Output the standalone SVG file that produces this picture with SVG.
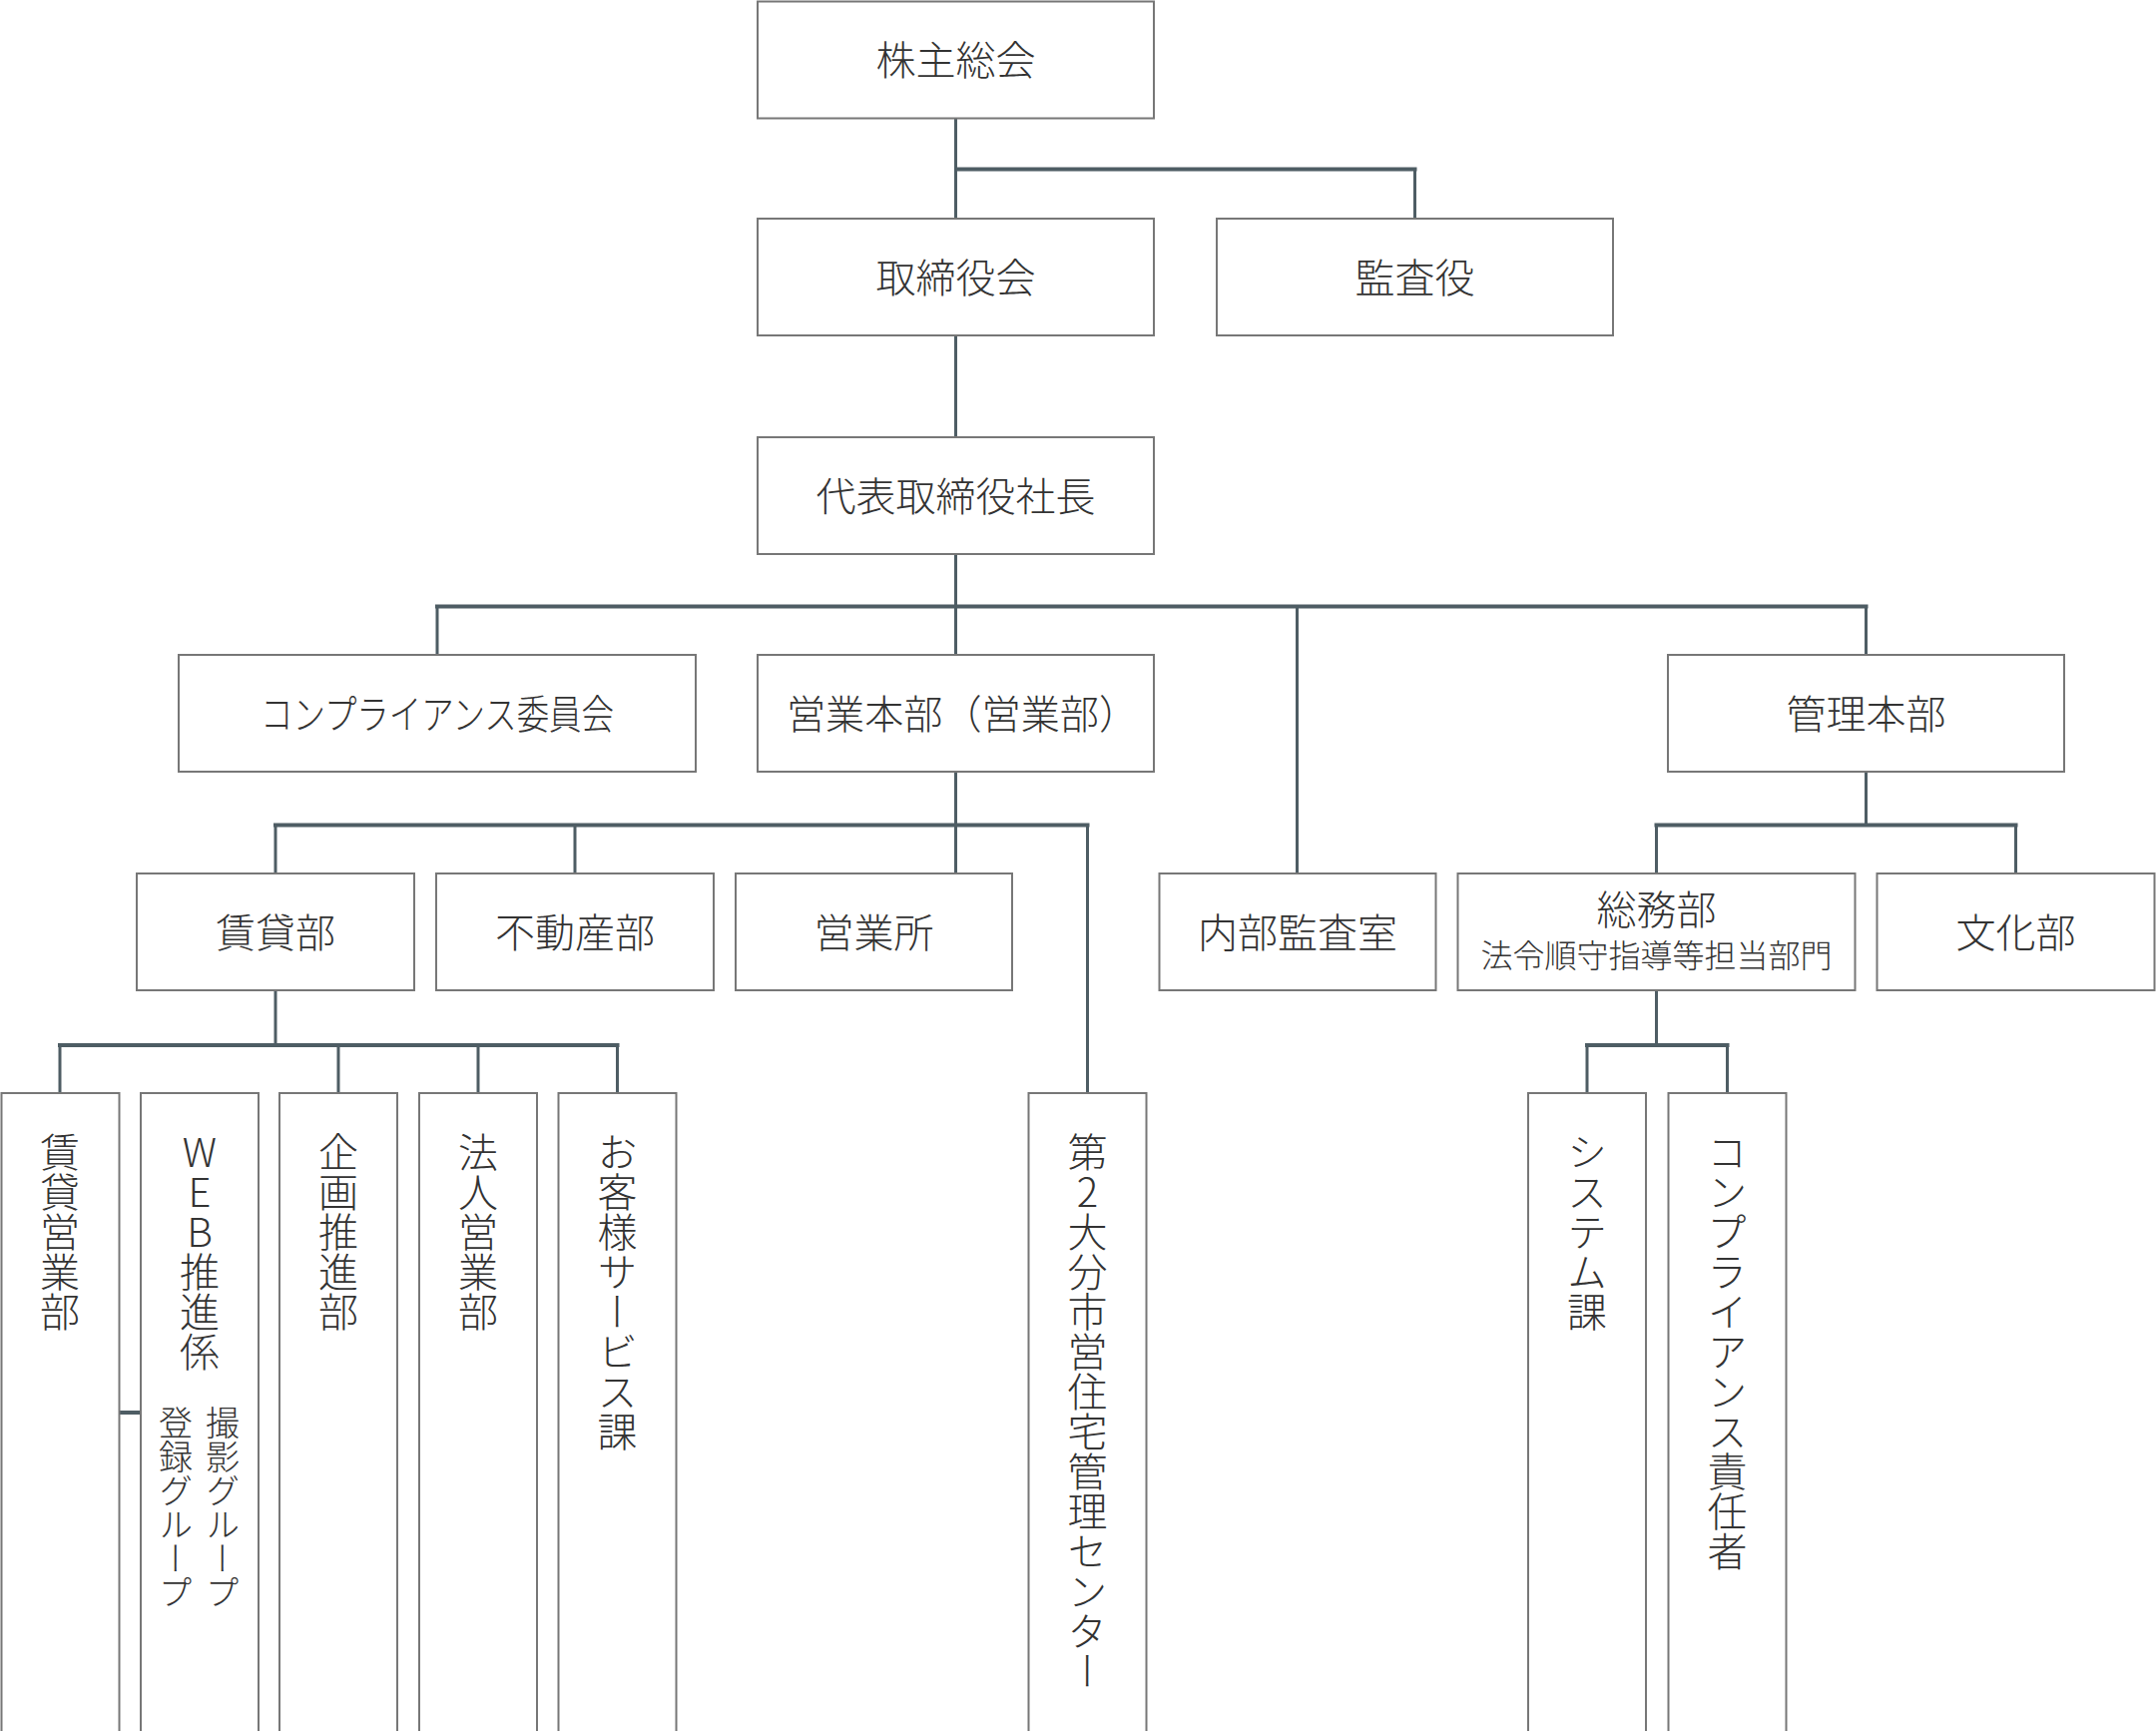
<svg xmlns="http://www.w3.org/2000/svg" width="2160" height="1734" viewBox="0 0 2160 1734">
<style>
.box{fill:#ffffff;stroke:#777777;stroke-width:2}
.t{font-family:"Noto Sans CJK JP","Noto Sans",sans-serif;font-size:40px;fill:#333333;text-anchor:middle;font-weight:300}
.s{font-size:32px}
.v{font-family:"Noto Sans CJK JP","Noto Sans",sans-serif;font-size:40px;fill:#333333;writing-mode:vertical-rl;text-orientation:upright;font-weight:300}
.vs{font-size:34px}
.c{fill:none;stroke:#4e5d64;stroke-width:3}
.h{fill:none;stroke:#4e5d64;stroke-width:4}
</style>
<rect width="2160" height="1734" fill="#ffffff"/>
<g id="connectors">
<path class="c" d="M957.5 118.5V219M1417.5 169.5V219M957.5 336V438M957.5 555V656M438 607.5V656M1299.5 607.5V875M1869.5 607.5V656M957.5 773V875M276 826.5V875M576 826.5V875M1089.5 826.5V1095M1869.5 773V826.5M1659.5 826.5V875M2019.5 826.5V875M276 992V1047M60 1047V1095M339 1047V1095M479 1047V1095M618.5 1047V1095M1659.5 992V1047M1590 1047V1095M1730.5 1047V1095"/>
<path class="h" d="M957.5 169.5H1419.5M436 607.5H1871.5M274 826.5H1091.5M1657.5 826.5H2021.5M58 1047H620.5M1588 1047H1732.5M118.5 1415H141"/>
</g>
<g id="n1"><rect class="box" x="759" y="1.5" width="397" height="117"/><text class="t" x="957.5" y="75">株主総会</text></g>
<g id="n2"><rect class="box" x="759" y="219" width="397" height="117"/><text class="t" x="957.5" y="292.5">取締役会</text></g>
<g id="n3"><rect class="box" x="1219" y="219" width="397" height="117"/><text class="t" x="1417.5" y="292.5">監査役</text></g>
<g id="n4"><rect class="box" x="759" y="438" width="397" height="117"/><text class="t" x="957.5" y="511.5">代表取締役社長</text></g>
<g id="n5"><rect class="box" x="179" y="656" width="518" height="117"/><text class="t" x="438" y="729.5" textLength="354" lengthAdjust="spacingAndGlyphs">コンプライアンス委員会</text></g>
<g id="n6"><rect class="box" x="759" y="656" width="397" height="117"/><text class="t" x="964" y="729.5" textLength="352" lengthAdjust="spacingAndGlyphs">営業本部（営業部）</text></g>
<g id="n7"><rect class="box" x="1671" y="656" width="397" height="117"/><text class="t" x="1869.5" y="729.5">管理本部</text></g>
<g id="n8"><rect class="box" x="137" y="875" width="278" height="117"/><text class="t" x="276" y="948.5">賃貸部</text></g>
<g id="n9"><rect class="box" x="437" y="875" width="278" height="117"/><text class="t" x="576" y="948.5">不動産部</text></g>
<g id="n10"><rect class="box" x="737" y="875" width="277" height="117"/><text class="t" x="875.5" y="948.5">営業所</text></g>
<g id="n11"><rect class="box" x="1161.5" y="875" width="277" height="117"/><text class="t" x="1300" y="948.5">内部監査室</text></g>
<g id="n12"><rect class="box" x="1460.5" y="875" width="398" height="117"/><text class="t" x="1659.5" y="926">総務部</text><text class="t s" x="1659.5" y="969">法令順守指導等担当部門</text></g>
<g id="n13"><rect class="box" x="1880.5" y="875" width="278" height="117"/><text class="t" x="2019.5" y="948.5">文化部</text></g>
<g id="n14"><rect class="box" x="1.5" y="1095" width="118" height="640"/><text class="v" x="60" y="1134">賃貸営業部</text></g>
<g id="n15"><rect class="box" x="141" y="1095" width="118" height="640"/><text class="v" x="200" y="1134">WEB推進係</text><text class="v vs" x="223" y="1408">撮影グループ</text><text class="v vs" x="176" y="1408">登録グループ</text></g>
<g id="n16"><rect class="box" x="280" y="1095" width="118" height="640"/><text class="v" x="339" y="1134">企画推進部</text></g>
<g id="n17"><rect class="box" x="420" y="1095" width="118" height="640"/><text class="v" x="479" y="1134">法人営業部</text></g>
<g id="n18"><rect class="box" x="559.5" y="1095" width="118" height="640"/><text class="v" x="618.5" y="1134">お客様サービス課</text></g>
<g id="n19"><rect class="box" x="1030.5" y="1095" width="118" height="640"/><text class="v" x="1089.5" y="1134">第2大分市営住宅管理センター</text></g>
<g id="n20"><rect class="box" x="1531" y="1095" width="118" height="640"/><text class="v" x="1590" y="1134">システム課</text></g>
<g id="n21"><rect class="box" x="1671.5" y="1095" width="118" height="640"/><text class="v" x="1730.5" y="1134">コンプライアンス責任者</text></g>
</svg>
